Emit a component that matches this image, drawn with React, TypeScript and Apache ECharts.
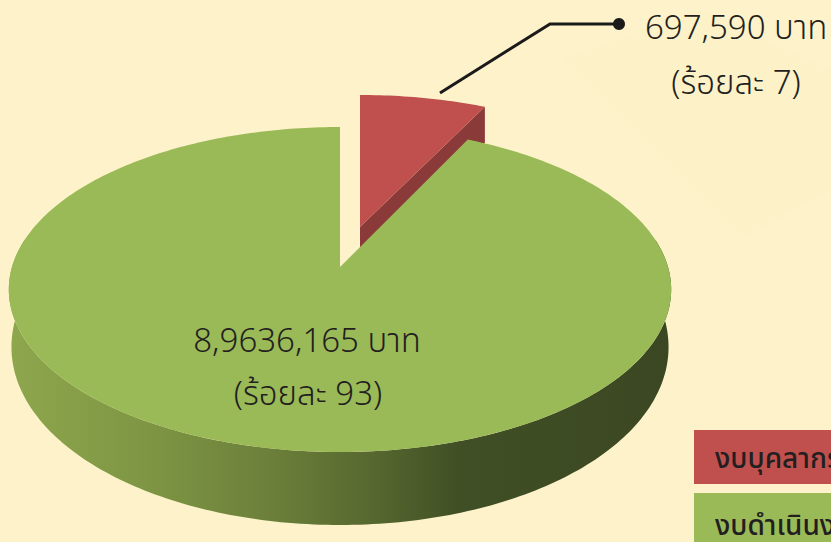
import React, { useEffect, useRef } from "react";
import * as echarts from "echarts";

const categories = ["งบบุคลากร", "งบดำเนินงาน"];
const values = [697590, 8963616];
const valueLabels = ["697,590 บาท", "8,9636,165 บาท"];
const shareLabels = ["(ร้อยละ 7)", "(ร้อยละ 93)"];

const W = 831;
const H = 542;
const FONT = '"Noto Sans", "Noto Sans Thai", sans-serif';
const total = values.reduce((a, b) => a + b, 0);

// Perspective projection of the disc: apex at (340,267)
const APEX = [340, 267];
const R = 328;
const PA = -122.4;
const PC = 0.1385;
function rim(deg: number, r = 1): [number, number] {
  const t = (deg * Math.PI) / 180;
  const u = Math.sin(t) * r;
  const v = Math.cos(t) * r;
  const d = PC * v + 1;
  return [APEX[0] + (R * u) / d, (PA * v + APEX[1]) / d];
}
function rimBottom(deg: number): [number, number] {
  const p = rim(deg);
  const v = Math.cos((deg * Math.PI) / 180);
  return [APEX[0] + (p[0] - APEX[0]) * 0.992, p[1] + 55 - 18 * v];
}
function arcPts(a: number, b: number, f: (d: number) => [number, number]) {
  const pts: [number, number][] = [];
  const n = Math.max(2, Math.ceil(Math.abs(b - a)));
  for (let i = 0; i <= n; i++) pts.push(f(a + ((b - a) * i) / n));
  return pts;
}
function exploded(p: [number, number]): [number, number] {
  return [360 + (p[0] - APEX[0]) * 0.977, 227 + (p[1] - APEX[1]) * 0.943];
}

function renderItem(params: any, api: any) {
  const i = params.dataIndex;
  const end = (values[0] / total) * 360;
  if (i === 0) {
    const sweep = (api.value(0) / total) * 360;
    const top = arcPts(0, sweep, (d) => exploded(rim(d)));
    const a: [number, number] = [360, 227];
    const last = top[top.length - 1];
    return {
      type: "group",
      children: [
        {
          type: "polygon",
          shape: { points: [a, last, [last[0], last[1] + 36], [a[0], a[1] + 36]] },
          style: { fill: "#8a3a39" },
        },
        {
          type: "polygon",
          shape: { points: [a, ...top] },
          style: { fill: "#c0504d" },
        },
      ],
    };
  }
  const top = arcPts(end, 360, (d) => rim(d));
  const sideTop = arcPts(80, 280, (d) => rim(d));
  const sideBot = arcPts(280, 80, rimBottom);
  return {
    type: "group",
    children: [
      {
        type: "polygon",
        shape: { points: [...sideTop, ...sideBot] },
        style: {
          fill: new echarts.graphic.LinearGradient(0, 0, 1, 0, [
            { offset: 0, color: "#8ea64c" },
            { offset: 0.2, color: "#7f9744" },
            { offset: 0.4, color: "#6b7f3a" },
            { offset: 0.55, color: "#56682f" },
            { offset: 0.68, color: "#404f25" },
            { offset: 1, color: "#3b4722" },
          ]),
        },
      },
      {
        type: "polygon",
        shape: { points: [APEX as [number, number], ...top] },
        style: { fill: "#9aba58" },
      },
    ],
  };
}

function label(text: string, x: number, y: number, size: number, align = "center", weight: any = 300) {
  return {
    type: "text",
    x,
    y,
    z: 10,
    style: {
      text,
      fill: "#231f20",
      font: `${weight} ${size}px ${FONT}`,
      textAlign: align,
      textVerticalAlign: "middle",
    },
  };
}

export default function App() {
  const ref = useRef<HTMLDivElement>(null);
  useEffect(() => {
    document.body.style.margin = "0";
    const chart = echarts.init(ref.current!, null, { renderer: "svg" });
    chart.setOption({
      animation: false,
      backgroundColor: "#fdf2c9",
      graphic: [
        { type: "polygon", z: 0, shape: { points: [[560, 60], [700, 10], [831, 70], [831, 190], [740, 240]] }, style: { fill: "#fbefc4", opacity: 0.2 } },
        { type: "polyline", z: 10, shape: { points: [[440, 93], [550, 24], [619, 24]] }, style: { stroke: "#1a1a1a", lineWidth: 3, fill: "none" } },
        { type: "circle", z: 10, shape: { cx: 619, cy: 24, r: 6 }, style: { fill: "#1a1a1a" } },
        label(valueLabels[0], 645, 26, 33, "left"),
        label(shareLabels[0], 736, 81, 33),
        label(valueLabels[1], 307, 339, 33),
        label(shareLabels[1], 308, 392, 33),
        { type: "rect", z: 5, shape: { x: 694, y: 430, width: 137, height: 54 }, style: { fill: "#c0504d" } },
        { type: "rect", z: 5, shape: { x: 694, y: 493, width: 137, height: 49 }, style: { fill: "#9aba58" } },
        label(categories[0], 715, 457, 28, "left", 500),
        label(categories[1], 715, 524, 28, "left", 500),
      ],
      series: [
        {
          type: "custom",
          coordinateSystem: "none",
          silent: true,
          z: 2,
          renderItem,
          data: values.map((v) => [v]),
        },
      ],
    });
    return () => chart.dispose();
  }, []);
  return <div ref={ref} style={{ width: W, height: H }} />;
}
